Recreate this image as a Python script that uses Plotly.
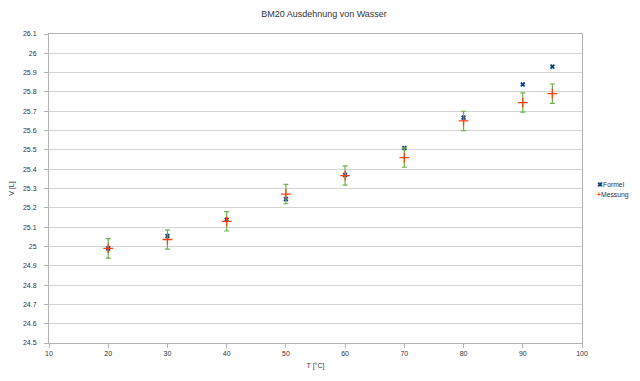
import plotly.graph_objects as go

temps = [20, 30, 40, 50, 60, 70, 80, 90, 95]
formel = [24.99, 25.054, 25.138, 25.245, 25.37, 25.51, 25.667, 25.839, 25.931]
messung = [24.99, 25.036, 25.13, 25.271, 25.367, 25.46, 25.65, 25.745, 25.791]
messung_err = [0.05, 0.05, 0.05, 0.05, 0.05, 0.05, 0.05, 0.05, 0.05]

x_ticks = [10, 20, 30, 40, 50, 60, 70, 80, 90, 100]
y_ticks = [24.5, 24.6, 24.7, 24.8, 24.9, 25, 25.1, 25.2, 25.3, 25.4, 25.5, 25.6, 25.7, 25.8, 25.9, 26, 26.1]

series_names = ["Formel", "Messung"]
series_colors = ["#004586", "#ff420e"]
series_glyphs = ["✖", "+"]

fig = go.Figure()
fig.add_trace(go.Scatter(
    x=temps, y=formel, mode="markers", name=series_names[0],
    marker=dict(symbol="x", size=4.5, color=series_colors[0], line=dict(width=0)),
))
fig.add_trace(go.Scatter(
    x=temps, y=messung, mode="markers", name=series_names[1],
    marker=dict(symbol="cross-thin", size=7, color=series_colors[1], line=dict(width=1.3, color=series_colors[1])),
    error_y=dict(type="data", array=messung_err, visible=True, color="#6cb04a", thickness=1.2, width=2.5),
))

# legend drawn as annotations (compact, like the original)
legend_y = [0.512, 0.480]
for nm, col, gl, ly in zip(series_names, series_colors, series_glyphs, legend_y):
    fig.add_annotation(
        xref="paper", yref="paper", x=1.024, y=ly, xanchor="left", yanchor="middle",
        text=f"<span style='color:{col}'><b>{gl}</b></span>{nm}", showarrow=False,
        font=dict(size=6.8, color="#333333"),
    )

fig.update_layout(
    width=632, height=373,
    margin=dict(l=41, r=58, t=26, b=38, autoexpand=False),
    paper_bgcolor="white", plot_bgcolor="white",
    font=dict(family="Liberation Sans, Arial, sans-serif", size=7, color="#333333"),
    title=dict(text="BM20 Ausdehnung von Wasser", x=0.5, xanchor="center", y=0.984, yanchor="middle",
               font=dict(size=9, color="#333333")),
    showlegend=False,
    xaxis=dict(range=[10, 100], tickvals=x_ticks, showgrid=False, zeroline=False,
               showline=True, linecolor="#b3b3b3", linewidth=1, mirror=True,
               ticks="outside", ticklen=4, tickcolor="#b3b3b3", automargin=False,
               title=dict(text="T [°C]", font=dict(size=7), standoff=6)),
    yaxis=dict(range=[24.5, 26.1], tickvals=y_ticks, showgrid=True, gridcolor="#d4d4d4", gridwidth=1,
               zeroline=False, showline=True, linecolor="#b3b3b3", linewidth=1, mirror=True,
               ticks="outside", ticklen=4, tickcolor="#b3b3b3", automargin=False,
               ticklabelstandoff=6,
               title=dict(text="V [L]", font=dict(size=7), standoff=8)),
)

fig.write_html("out.html")
